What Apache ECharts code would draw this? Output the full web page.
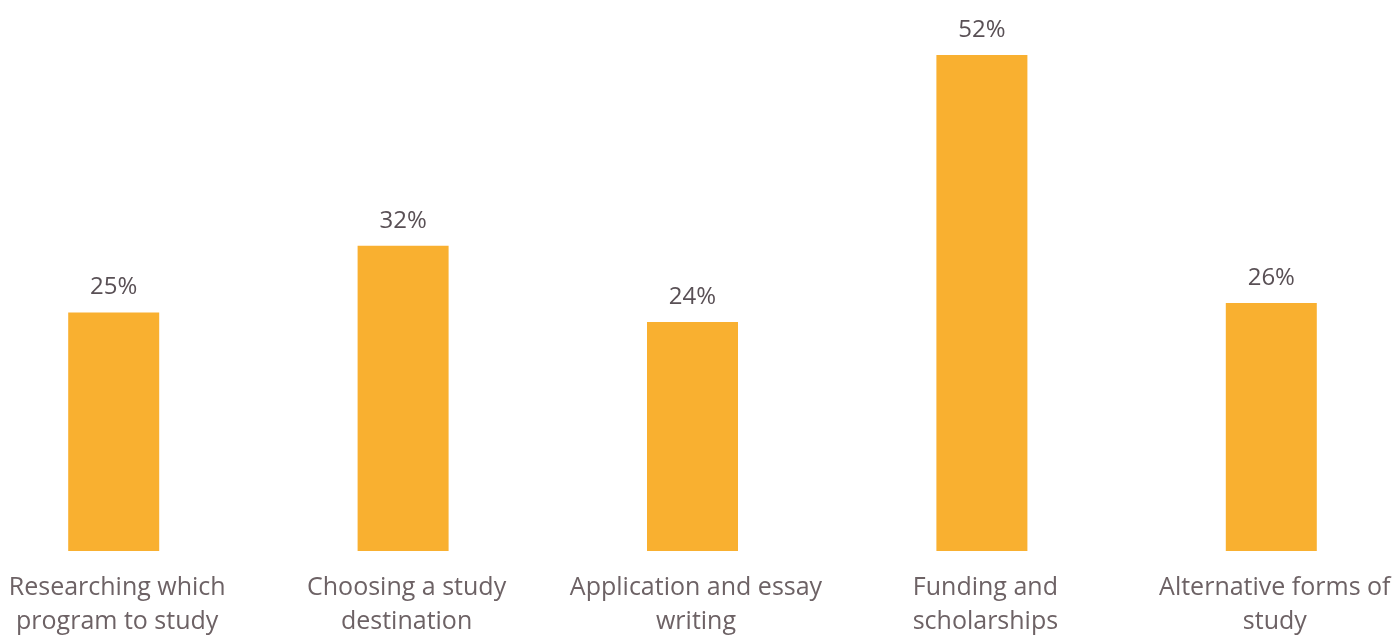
<!DOCTYPE html>
<html>
<head>
<meta charset="utf-8">
<script src="https://cdn.jsdelivr.net/npm/echarts@6/dist/echarts.min.js"></script>
<style>
  html, body { margin: 0; padding: 0; background: #fff; }
  #main { width: 1396px; height: 635px; }
</style>
</head>
<body>
<div id="main"></div>
<script>
const categories = [
  'Researching which\nprogram to study',
  'Choosing a study\ndestination',
  'Application and essay\nwriting',
  'Funding and\nscholarships',
  'Alternative forms of\nstudy',
];
const shares = [25, 32, 24, 52, 26];

const chart = echarts.init(document.getElementById('main'));
chart.setOption({
  animation: false,
  grid: {
    left: -31,
    right: -20,
    top: 55,
    bottom: 84,
    outerBoundsMode: 'none',
  },
  xAxis: {
    type: 'category',
    data: categories,
    axisLine: { show: false },
    axisTick: { show: false },
    axisLabel: {
      margin: 20,
      padding: [0, 0, 0, 7],
      fontFamily: 'Open Sans',
      fontSize: 25,
      lineHeight: 34,
      color: '#6d6265',
      interval: 0,
    },
  },
  yAxis: {
    type: 'value',
    min: 0,
    max: 52,
    show: false,
    splitLine: { show: false },
  },
  series: [{
    type: 'bar',
    data: shares,
    barWidth: 91,
    itemStyle: { color: '#f9b030' },
    label: {
      show: true,
      position: 'top',
      distance: 13,
      formatter: '{c}%',
      fontFamily: 'Open Sans',
      fontSize: 24,
      color: '#595055',
    },
  }],
});
</script>
</body>
</html>
